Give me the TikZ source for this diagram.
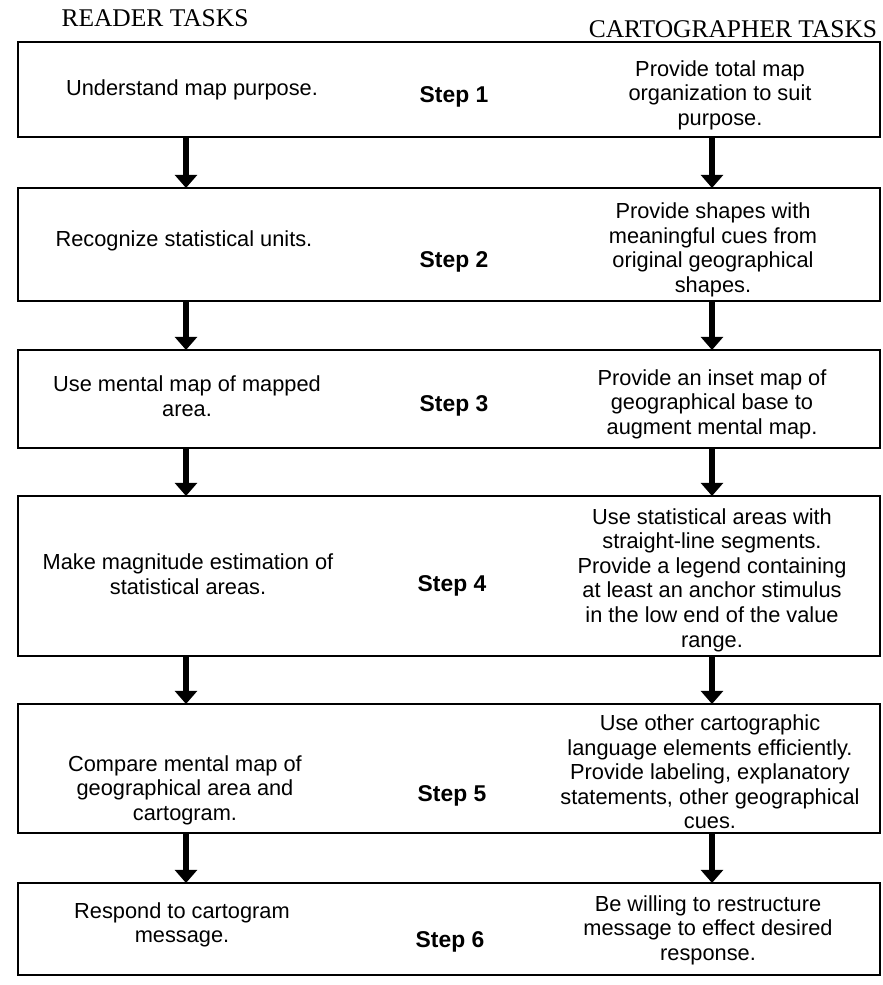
\documentclass[tikz,border=0pt]{standalone}
\usepackage{fontspec}
\setmainfont{Liberation Sans}
\newfontfamily\headfont{Liberation Serif}
\usetikzlibrary{arrows.meta}
\tikzset{
  task/.style={align=center, inner sep=0pt, font=\fontsize{12.4}{14}\selectfont},
  steplabel/.style={inner sep=0pt, font=\fontsize{13}{15}\selectfont\bfseries},
  heading/.style={inner sep=0pt, font=\fontsize{14.5}{16}\selectfont\headfont},
  boxline/.style={line width=1.1pt},
  bigarrow/.style={line width=3pt, -{Triangle[width=12.5pt,length=7.5pt]}},
}
\begin{document}
\begin{tikzpicture}[x=0.02cm, y=-0.02cm]
      \useasboundingbox (0,0) rectangle (883,985);
      \coordinate (lcol) at (186,0);
      \coordinate (rcol) at (712,0);
      \node[heading] (rhead) at (155,18) {READER TASKS};
      \node[heading] (chead) at (733,29) {CARTOGRAPHER TASKS};
      \draw[boxline] (18,42) coordinate (t1) rectangle (880,137) coordinate (b1);
      \draw[boxline] (18,188) coordinate (t2) rectangle (880,301) coordinate (b2);
      \draw[boxline] (18,350) coordinate (t3) rectangle (880,448) coordinate (b3);
      \draw[boxline] (18,496) coordinate (t4) rectangle (880,656) coordinate (b4);
      \draw[boxline] (18,704) coordinate (t5) rectangle (880,833) coordinate (b5);
      \draw[boxline] (18,883) coordinate (t6) rectangle (880,975) coordinate (b6);
      \draw[bigarrow] (b1 -| lcol) -- (t2 -| lcol);
      \draw[bigarrow] (b2 -| lcol) -- (t3 -| lcol);
      \draw[bigarrow] (b3 -| lcol) -- (t4 -| lcol);
      \draw[bigarrow] (b4 -| lcol) -- (t5 -| lcol);
      \draw[bigarrow] (b5 -| lcol) -- (t6 -| lcol);
      \draw[bigarrow] (b1 -| rcol) -- (t2 -| rcol);
      \draw[bigarrow] (b2 -| rcol) -- (t3 -| rcol);
      \draw[bigarrow] (b3 -| rcol) -- (t4 -| rcol);
      \draw[bigarrow] (b4 -| rcol) -- (t5 -| rcol);
      \draw[bigarrow] (b5 -| rcol) -- (t6 -| rcol);
      \node[task] (r1) at (192,90) {Understand map purpose.};
      \node[task] (r2) at (184,241) {Recognize statistical units.};
      \node[task] (r3) at (187,396) {Use mental map of mapped\\area.};
      \node[task] (r4) at (188,574) {Make magnitude estimation of\\statistical areas.};
      \node[task] (r5) at (185,790) {Compare mental map of\\geographical area and\\cartogram.};
      \node[task] (r6) at (182,925) {Respond to cartogram\\message.};
      \node[steplabel] (s1) at (454,97) {Step 1};
      \node[steplabel] (s2) at (454,262) {Step 2};
      \node[steplabel] (s3) at (454,406) {Step 3};
      \node[steplabel] (s4) at (452,586) {Step 4};
      \node[steplabel] (s5) at (452,796) {Step 5};
      \node[steplabel] (s6) at (450,942) {Step 6};
      \node[task] (c1) at (720,95) {Provide total map\\organization to suit\\purpose.};
      \node[task] (c2) at (713,250) {Provide shapes with\\meaningful cues from\\original geographical\\shapes.};
      \node[task] (c3) at (712,404) {Provide an inset map of\\geographical base to\\augment mental map.};
      \node[task] (c4) at (712,580) {Use statistical areas with\\straight-line segments.\\Provide a legend containing\\at least an anchor stimulus\\in the low end of the value\\range.};
      \node[task] (c5) at (710,772) {Use other cartographic\\language elements efficiently.\\Provide labeling, explanatory\\statements, other geographical\\cues.};
      \node[task] (c6) at (708,930) {Be willing to restructure\\message to effect desired\\response.};
\end{tikzpicture}
\end{document}
